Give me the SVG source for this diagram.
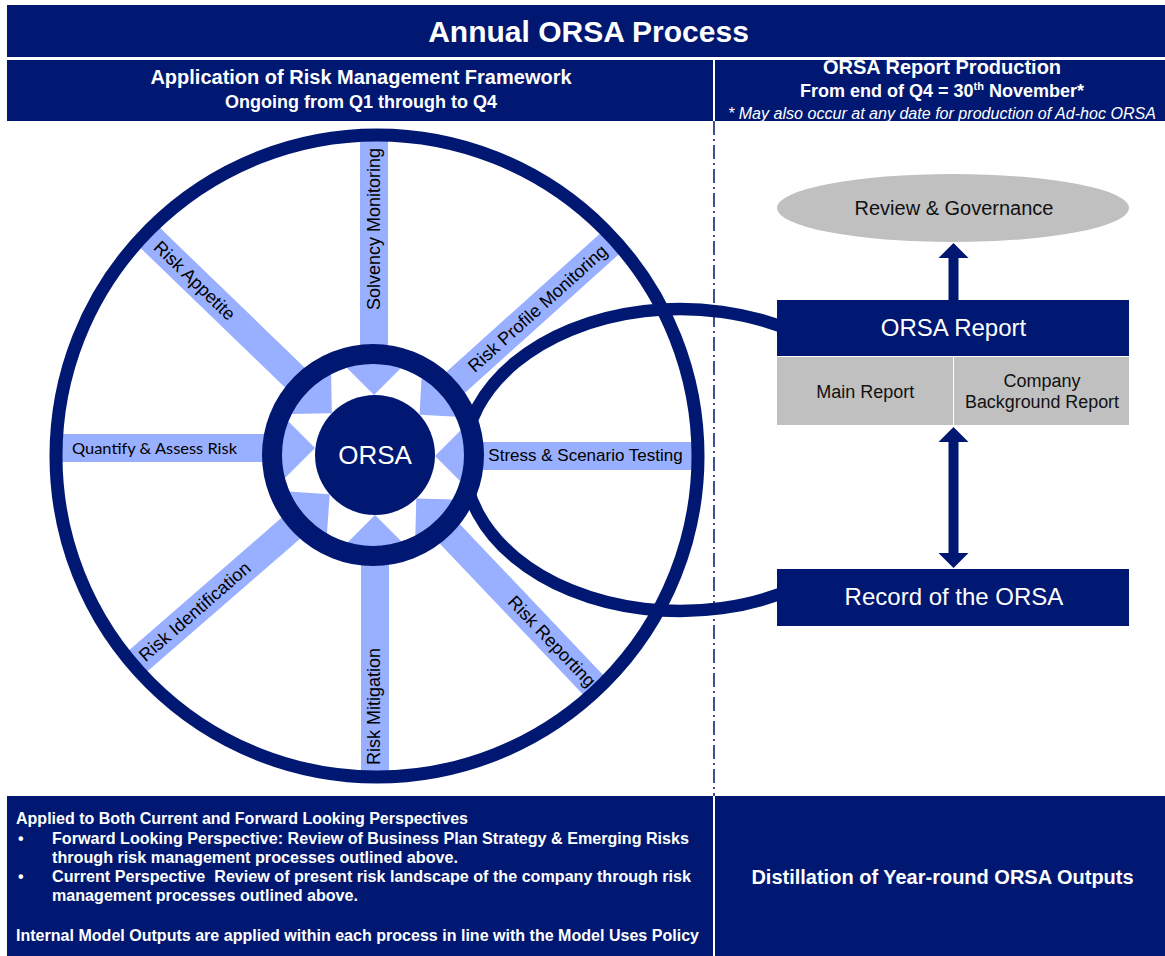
<svg xmlns="http://www.w3.org/2000/svg" width="1165" height="956" viewBox="0 0 1165 956">
  <defs>
    <style>
      .navy { fill: #001871; }
      .navy-line { fill: none; stroke: #001871; }
      .gray { fill: #C0C0C0; }
      .spoke { fill: #99AFFF; }
      .sans { font-family: "Liberation Sans", Arial, sans-serif; }
      .hdr { font-family: "Liberation Sans", Arial, sans-serif; font-weight: bold; fill: #fff; text-anchor: middle; }
      .hdr-note { font-family: "Liberation Sans", Arial, sans-serif; font-style: italic; font-size: 16px; fill: #fff; text-anchor: middle; }
      .lbl { font-family: "Liberation Sans", Arial, sans-serif; font-size: 18px; fill: #000; text-anchor: middle; }
      .box-t { font-family: "Liberation Sans", Arial, sans-serif; font-size: 24px; fill: #fff; text-anchor: middle; }
      .cell-t { font-family: "Liberation Sans", Arial, sans-serif; font-size: 18px; fill: #111; text-anchor: middle; }
      .note { font-family: "Liberation Sans", Arial, sans-serif; font-weight: bold; font-size: 16px; fill: #fff; }
    </style>
    <!-- hides the link arc inside the hub ring -->
    <mask id="outsideRing">
      <rect x="0" y="0" width="1165" height="956" fill="#fff"/>
      <circle cx="373" cy="455" r="101" fill="#000"/>
    </mask>
    <!-- block arrow pointing at the hub; +x runs outward from the hub centre -->
    <polygon id="spokeShape" points="60,0 100,-40 100,-14 319,-14 319,14 100,14 100,40"/>
  </defs>

  <rect x="0" y="0" width="1165" height="956" fill="#fff"/>

  <!-- title and column headers -->
  <g id="header">
    <rect class="navy" x="7" y="5" width="1158" height="52"/>
    <text class="hdr" x="588.5" y="42" font-size="30">Annual ORSA Process</text>
    <rect class="navy" x="7" y="60" width="706" height="61"/>
    <rect class="navy" x="715" y="60" width="450" height="61"/>
    <text class="hdr" x="361" y="84" font-size="20">Application of Risk Management Framework</text>
    <text class="hdr" x="361" y="107.5" font-size="18">Ongoing from Q1 through to Q4</text>
    <text class="hdr" x="942" y="74" font-size="20">ORSA Report Production</text>
    <text class="hdr" x="942" y="97" font-size="18">From end of Q4 = 30<tspan font-size="11" dy="-7">th</tspan><tspan dy="7"> November*</tspan></text>
    <text class="hdr-note" x="942" y="118.5" textLength="428" lengthAdjust="spacingAndGlyphs">* May also occur at any date for production of Ad-hoc ORSA</text>
  </g>

  <!-- column divider -->
  <line x1="714" y1="121" x2="714" y2="796" stroke="#001871" stroke-width="1.5" stroke-dasharray="14 4 2 4"/>

  <!-- spokes of the framework wheel -->
  <g id="spokes">
    <use href="#spokeShape" class="spoke" transform="translate(374 455) rotate(-90)"/>
    <use href="#spokeShape" class="spoke" transform="translate(375 455) rotate(-42)"/>
    <use href="#spokeShape" class="spoke" transform="translate(375 456)"/>
    <use href="#spokeShape" class="spoke" transform="translate(375 455) rotate(46.5)"/>
    <use href="#spokeShape" class="spoke" transform="translate(375 455) rotate(90)"/>
    <use href="#spokeShape" class="spoke" transform="translate(375 455) rotate(139)"/>
    <use href="#spokeShape" class="spoke" transform="translate(375 448) rotate(180)"/>
    <use href="#spokeShape" class="spoke" transform="translate(375 455) rotate(-136)"/>
  </g>

  <!-- outer rim of the wheel -->
  <g id="wheel-rim">
    <circle class="navy-line" cx="377" cy="456" r="321" stroke-width="13"/>
  </g>

  <g id="connectors">
    <!-- loop joining the hub to the report outputs -->
    <path class="navy-line" d="M 790 330 A 216 151 0 1 0 790 590" stroke-width="12.5" mask="url(#outsideRing)"/>
    <!-- ORSA Report to Review & Governance -->
    <polygon class="navy" points="948.5,300 948.5,258 938.5,258 953.5,243 968.5,258 958.5,258 958.5,300"/>
    <!-- ORSA Report to/from Record of the ORSA -->
    <polygon class="navy" points="953.5,427 968.5,442 958.5,442 958.5,553 968.5,553 953.5,568 938.5,553 948.5,553 948.5,442 938.5,442"/>
  </g>

  <!-- hub -->
  <g id="orsa-hub">
    <circle class="navy-line" cx="373" cy="455" r="101" stroke-width="20"/>
    <circle class="navy" cx="375" cy="455" r="60"/>
    <text class="sans" x="375" y="464" font-size="26" fill="#fff" text-anchor="middle">ORSA</text>
  </g>

  <!-- spoke labels -->
  <g id="solvency-monitoring">
    <text class="lbl" transform="translate(373.5 229) rotate(-90)" y="6">Solvency Monitoring</text>
  </g>
  <g id="risk-profile-monitoring">
    <text class="lbl" transform="translate(537.7 308.5) rotate(-42)" y="6">Risk Profile Monitoring</text>
  </g>
  <g id="stress-scenario-testing">
    <text class="lbl" x="585.5" y="461" style="font-size:17px">Stress &amp; Scenario Testing</text>
  </g>
  <g id="risk-reporting">
    <text class="lbl" transform="translate(551.8 641.4) rotate(46.5)" y="6">Risk Reporting</text>
  </g>
  <g id="risk-mitigation">
    <text class="lbl" transform="translate(373.5 706.5) rotate(-90)" y="6">Risk Mitigation</text>
  </g>
  <g id="risk-identification">
    <text class="lbl" transform="translate(194.8 611.6) rotate(-41)" y="6">Risk Identification</text>
  </g>
  <g id="quantify-assess-risk">
    <text x="72" y="453.5" font-family="Lato, 'Open Sans', sans-serif" font-size="16" fill="#000" textLength="165" lengthAdjust="spacingAndGlyphs">Quantify &amp; Assess Risk</text>
  </g>
  <g id="risk-appetite">
    <text class="lbl" transform="translate(194.5 280.6) rotate(44)" y="6">Risk Appetite</text>
  </g>

  <!-- report production column -->
  <g id="review-governance">
    <ellipse class="gray" cx="953" cy="208" rx="176" ry="34"/>
    <text class="cell-t" x="954" y="214.5" style="font-size:20px">Review &amp; Governance</text>
  </g>
  <g id="orsa-report">
    <rect class="navy" x="777" y="300" width="352" height="56"/>
    <text class="box-t" x="953.5" y="335.5">ORSA Report</text>
  </g>
  <g id="main-report">
    <rect class="gray" x="777" y="357" width="176" height="68"/>
    <text class="cell-t" x="865.3" y="397.5">Main Report</text>
  </g>
  <g id="company-background-report">
    <rect class="gray" x="954" y="357" width="175" height="68"/>
    <text class="cell-t" x="1042" y="386.5">Company</text>
    <text class="cell-t" x="1042" y="408" textLength="154" lengthAdjust="spacingAndGlyphs">Background Report</text>
  </g>
  <g id="record-of-orsa">
    <rect class="navy" x="777" y="569" width="352" height="57"/>
    <text class="box-t" x="954" y="605">Record of the ORSA</text>
  </g>

  <!-- footer panels -->
  <g id="perspectives">
    <rect class="navy" x="7" y="796" width="706" height="160"/>
    <text class="note" x="16" y="824" textLength="452" lengthAdjust="spacingAndGlyphs">Applied to Both Current and Forward Looking Perspectives</text>
    <text class="note" x="18" y="843.5">•</text>
    <text class="note" x="52" y="843.5" textLength="637" lengthAdjust="spacingAndGlyphs">Forward Looking Perspective: Review of Business Plan Strategy &amp; Emerging Risks</text>
    <text class="note" x="52" y="862.5" textLength="406" lengthAdjust="spacingAndGlyphs">through risk management processes outlined above.</text>
    <text class="note" x="18" y="882">•</text>
    <text class="note" x="52" y="882" textLength="639" lengthAdjust="spacingAndGlyphs" xml:space="preserve">Current Perspective  Review of present risk landscape of the company through risk</text>
    <text class="note" x="52" y="901" textLength="306" lengthAdjust="spacingAndGlyphs">management processes outlined above.</text>
    <text class="note" x="16" y="940.5" textLength="683" lengthAdjust="spacingAndGlyphs">Internal Model Outputs are applied within each process in line with the Model Uses Policy</text>
  </g>
  <g id="distillation">
    <rect class="navy" x="715" y="796" width="450" height="160"/>
    <text class="hdr" x="942.5" y="883.5" font-size="20">Distillation of Year-round ORSA Outputs</text>
  </g>
</svg>
